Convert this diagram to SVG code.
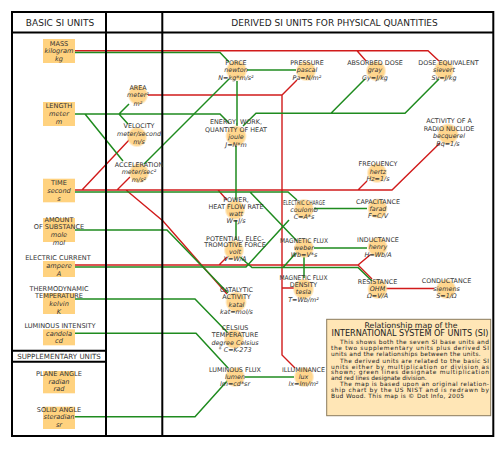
<svg xmlns="http://www.w3.org/2000/svg" width="503" height="450" viewBox="0 0 503 450">
<defs>
<radialGradient id="blob">
<stop offset="0" stop-color="#FFD68E"/>
<stop offset="0.78" stop-color="#FFD68E"/>
<stop offset="1" stop-color="#FFD68E" stop-opacity="0"/>
</radialGradient>
</defs>
<style>
.t{font-family:"DejaVu Sans",Verdana,sans-serif;font-size:6.4px;fill:#333;text-anchor:middle}
.b{font-size:6.6px}
.i{font-style:italic}
.h{font-family:"DejaVu Sans",Verdana,sans-serif;font-size:9px;fill:#222;text-anchor:middle}
.r{stroke:#D11B1B;stroke-width:1.4;fill:none}
.g{stroke:#1F8B1F;stroke-width:1.5;fill:none}
.box{fill:#FFD27F}
.blob{fill:url(#blob)}
.frame{stroke:#000;stroke-width:2;fill:none}
.note{font-family:"DejaVu Sans",Verdana,sans-serif;font-size:5.9px;fill:#222}
</style>
<rect width="503" height="450" fill="#fff"/>

<g id="connectors">
<path class="r" d="M75,50.7H428L439,61M357,50.7L366,61"/>
<path class="r" d="M148,95H282L297,80M282,95V355L295,368M282,288H294"/>
<path class="r" d="M75,190H392L440,143M82,190L130,139M117,190L130,177M126,190L163,221L227,294M218,190L227,200M358,190L367,181"/>
<path class="r" d="M75,265H358L370,255M358,265L372,279M219,265L227,257"/>
<path class="r" d="M386,288.5H434"/>
<path class="g" d="M75,52.5H220L229,62"/>
<path class="g" d="M75,114H220L229,123M85,114L123,161M119,114L129,104M119,114L128,124"/>
<path class="g" d="M144,164L229,79"/>
<path class="g" d="M247,70H296"/>
<path class="g" d="M237,81V126"/>
<path class="g" d="M243,126L256,113.3H405L439,79M331,113.3L365,79"/>
<path class="g" d="M236,146V200M236,220V240"/>
<path class="g" d="M75,192H288L297,200M250,192L297,241"/>
<path class="g" d="M75,230H167L228,293"/>
<path class="g" d="M75,267H246L289,220"/>
<path class="g" d="M240,257L252,267.5H358L372,281M283,267.5L296,253"/>
<path class="g" d="M314,208.5H367M314,248H367M304,256V278"/>
<path class="g" d="M75,299H195L228,333M75,333.3H196L228,368M75,416.7H195L228,380"/>
<path class="g" d="M245,377H294"/>
</g>

<g id="frame">
<rect class="frame" x="12" y="12" width="481.3" height="424"/>
<path class="frame" d="M12,32.5H493.3M106,12V436M162.3,12V436M12,350.7H106M12,361.7H106"/>
<text class="h" x="60" y="25.5">BASIC SI UNITS</text>
<text class="h" x="334.5" y="25.5">DERIVED SI UNITS FOR PHYSICAL QUANTITIES</text>
<text class="t" style="font-size:7.1px" x="59" y="358.6">SUPPLEMENTARY UNITS</text>
</g>

<g id="mass"><rect class="box" x="43" y="39" width="32" height="24"/><text class="t b" x="59" y="46">MASS</text><text class="t b i" x="59" y="53.3">kilogram</text><text class="t b i" x="59" y="60.8">kg</text></g>
<g id="length"><rect class="box" x="43" y="102" width="32" height="24"/><text class="t b" x="59" y="108.3">LENGTH</text><text class="t b i" x="59" y="116">meter</text><text class="t b i" x="59" y="123.5">m</text></g>
<g id="time"><rect class="box" x="43" y="178.7" width="32" height="23.6"/><text class="t b" x="59" y="185">TIME</text><text class="t b i" x="59" y="193">second</text><text class="t b i" x="59" y="200.5">s</text></g>
<g id="amount"><rect class="box" x="43" y="218" width="32" height="24"/><text class="t b" x="59" y="221.6">AMOUNT</text><text class="t b" x="59" y="229">OF SUBSTANCE</text><text class="t b i" x="59" y="236.6">mole</text><text class="t b i" x="59" y="244.5">mol</text></g>
<g id="current"><rect class="box" x="43" y="261" width="32" height="16"/><text class="t b" x="58" y="260">ELECTRIC CURRENT</text><text class="t b i" x="59" y="268">ampere</text><text class="t b i" x="59" y="275.5">A</text></g>
<g id="temperature"><rect class="box" x="43" y="293" width="32" height="21"/><text class="t b" x="59" y="291">THERMODYNAMIC</text><text class="t b" x="59" y="298.3">TEMPERATURE</text><text class="t b i" x="59" y="306.3">kelvin</text><text class="t b i" x="59" y="314">K</text></g>
<g id="intensity"><rect class="box" x="43" y="329.3" width="32" height="16"/><text class="t b" x="60" y="328">LUMINOUS INTENSITY</text><text class="t b i" x="59" y="335.6">candela</text><text class="t b i" x="59" y="343.3">cd</text></g>
<g id="plane"><rect class="box" x="43" y="371" width="32" height="22.3"/><text class="t b" x="59" y="376.3">PLANE ANGLE</text><text class="t b i" x="59" y="384">radian</text><text class="t b i" x="59" y="391.3">rad</text></g>
<g id="solid"><rect class="box" x="43" y="406.7" width="32" height="22.3"/><text class="t b" x="59" y="412">SOLID ANGLE</text><text class="t b i" x="59" y="419.4">steradian</text><text class="t b i" x="59" y="426.8">sr</text></g>

<g id="area"><circle class="blob" cx="138" cy="95" r="10.5"/><text class="t" x="138" y="90">AREA</text><text class="t i" x="138" y="97.3">meter²</text><text class="t i" x="138" y="105.6">m²</text></g>
<g id="velocity"><circle class="blob" cx="137" cy="137" r="10.5"/><text class="t" x="139" y="128.3">VELOCITY</text><text class="t i" x="139" y="136.3">meter/second</text><text class="t i" x="139" y="144">m/s</text></g>
<g id="acceleration"><circle class="blob" cx="139" cy="173" r="10.5"/><text class="t" x="139" y="166.6">ACCELERATION</text><text class="t i" x="139" y="174.3">meter/sec²</text><text class="t i" x="139" y="181.6">m/s²</text></g>
<g id="force"><circle class="blob" cx="236.5" cy="70.5" r="11"/><text class="t" x="236" y="65">FORCE</text><text class="t i" x="236" y="72.3">newton</text><text class="t i" x="236" y="80">N=kg*m/s²</text></g>
<g id="pressure"><circle class="blob" cx="306" cy="71" r="10.5"/><text class="t" x="307" y="65">PRESSURE</text><text class="t i" x="307" y="72.3">pascal</text><text class="t i" x="307" y="80">Pa=N/m²</text></g>
<g id="absorbed"><circle class="blob" cx="376" cy="71" r="10.5"/><text class="t" x="375" y="65">ABSORBED DOSE</text><text class="t i" x="375" y="72.3">gray</text><text class="t i" x="375" y="80">Gy=J/kg</text></g>
<g id="dose"><circle class="blob" cx="444" cy="70" r="10.5"/><text class="t" x="448.5" y="65">DOSE EQUIVALENT</text><text class="t i" x="444" y="72.3">sievert</text><text class="t i" x="444" y="80">Sv=J/kg</text></g>
<g id="energy"><circle class="blob" cx="236" cy="136" r="11"/><text class="t" x="236" y="124.3">ENERGY, WORK,</text><text class="t" x="236" y="131.6">QUANTITY OF HEAT</text><text class="t i" x="236" y="139">joule</text><text class="t i" x="236" y="146.6">J=N*m</text></g>
<g id="activity"><circle class="blob" cx="448" cy="134" r="11"/><text class="t" x="449" y="123.3">ACTIVITY OF A</text><text class="t" x="449" y="130.6">RADIO NUCLIDE</text><text class="t i" x="449" y="138">becquerel</text><text class="t i" x="448" y="145.6">Bq=1/s</text></g>
<g id="frequency"><circle class="blob" cx="377" cy="173" r="10.5"/><text class="t" x="378" y="166.3">FREQUENCY</text><text class="t i" x="378" y="173.6">hertz</text><text class="t i" x="378" y="181">Hz=1/s</text></g>
<g id="power"><circle class="blob" cx="235" cy="210" r="10.5"/><text class="t" x="236" y="201.6">POWER,</text><text class="t" x="236" y="208.6">HEAT FLOW RATE</text><text class="t i" x="236" y="216">watt</text><text class="t i" x="236" y="222.6">W=J/s</text></g>
<g id="charge"><circle class="blob" cx="304" cy="209" r="10.5"/><text class="t" x="304" y="204.8" textLength="42" lengthAdjust="spacingAndGlyphs">ELECTRIC CHARGE</text><text class="t i" x="304" y="211.8">coulomb</text><text class="t i" x="304" y="218.6">C=A*s</text></g>
<g id="capacitance"><circle class="blob" cx="377.5" cy="208.5" r="10.5"/><text class="t" x="378" y="204">CAPACITANCE</text><text class="t i" x="378" y="211">farad</text><text class="t i" x="378" y="217.6">F=C/V</text></g>
<g id="potential"><circle class="blob" cx="234" cy="250" r="10.5"/><text class="t" x="235" y="240.6">POTENTIAL, ELEC-</text><text class="t" x="235" y="247.3">TROMOTIVE FORCE</text><text class="t i" x="235" y="254">volt</text><text class="t i" x="235" y="260.6">V=W/A</text></g>
<g id="flux"><circle class="blob" cx="304" cy="248" r="10.5"/><text class="t" x="304" y="242.5" textLength="48" lengthAdjust="spacingAndGlyphs">MAGNETIC FLUX</text><text class="t i" x="304" y="249.6">weber</text><text class="t i" x="304" y="256.6">Wb=V*s</text></g>
<g id="inductance"><circle class="blob" cx="377.5" cy="247" r="10.5"/><text class="t" x="378" y="242.3">INDUCTANCE</text><text class="t i" x="378" y="249.3">henry</text><text class="t i" x="378" y="256.6">H=Wb/A</text></g>
<g id="density"><circle class="blob" cx="303.5" cy="289" r="11"/><text class="t" x="303.5" y="280" textLength="48" lengthAdjust="spacingAndGlyphs">MAGNETIC FLUX</text><text class="t" x="303.5" y="287.2">DENSITY</text><text class="t i" x="303.5" y="294.3">tesla</text><text class="t i" x="303.5" y="301.8">T=Wb/m²</text></g>
<g id="resistance"><circle class="blob" cx="377.5" cy="289" r="10.5"/><text class="t" x="377.5" y="284">RESISTANCE</text><text class="t i" x="377.5" y="290.6">OHM</text><text class="t i" x="377.5" y="298.3">Ω=V/A</text></g>
<g id="conductance"><circle class="blob" cx="446" cy="289" r="10.5"/><text class="t" x="446.5" y="283.3">CONDUCTANCE</text><text class="t i" x="446.5" y="290.6">siemens</text><text class="t i" x="446.5" y="298">S=1/Ω</text></g>
<g id="catalytic"><circle class="blob" cx="236" cy="302" r="11"/><text class="t" x="236.5" y="291.6">CATALYTIC</text><text class="t" x="236.5" y="299">ACTIVITY</text><text class="t i" x="236.5" y="306.6">katal</text><text class="t i" x="236.5" y="314.3">kat=mol/s</text></g>
<g id="celsius"><circle class="blob" cx="234" cy="339" r="10.5"/><text class="t" x="235" y="330">CELSIUS</text><text class="t" x="235" y="337.3">TEMPERATURE</text><text class="t i" x="235" y="344.6">degree Celsius</text><text class="t i" x="235" y="351.6">° C=K-273</text></g>
<g id="lumen"><circle class="blob" cx="235" cy="377" r="10.5"/><text class="t" x="235" y="371.6">LUMINOUS FLUX</text><text class="t i" x="235" y="379">lumen</text><text class="t i" x="235" y="385.6">lm=cd*sr</text></g>
<g id="lux"><circle class="blob" cx="304" cy="377" r="10.5"/><text class="t" x="303.5" y="371.6">ILLUMINANCE</text><text class="t i" x="303.5" y="379">lux</text><text class="t i" x="303.5" y="385.6">lx=lm/m²</text></g>

<g id="legend">
<rect x="326.7" y="319.3" width="164" height="96.4" fill="#FFE6B6" stroke="#8A7A5C" stroke-width="1"/>
<text class="note" x="411" y="328.3" text-anchor="middle" style="font-size:7.8px">Relationship map of the</text>
<text class="note" x="331.5" y="336.3" textLength="157" lengthAdjust="spacingAndGlyphs" style="font-size:8px">INTERNATIONAL SYSTEM OF UNITS (SI)</text>
<text class="note" x="340" y="344.1" textLength="149" lengthAdjust="spacing">This shows both the seven SI base units and</text>
<text class="note" x="331" y="350.1" textLength="158" lengthAdjust="spacing">the two supplementary units plus derived SI</text>
<text class="note" x="331" y="356.1" textLength="149.7" lengthAdjust="spacing">units and the relationships between the units.</text>
<text class="note" x="340" y="362.5" textLength="149" lengthAdjust="spacing">The derived units are related to the basic SI</text>
<text class="note" x="331" y="368.5" textLength="158" lengthAdjust="spacing">units either by multiplication or division as</text>
<text class="note" x="331" y="374.3" textLength="158" lengthAdjust="spacing">shown; green lines designate multiplication</text>
<text class="note" x="331" y="380.1" textLength="95.7" lengthAdjust="spacing">and red lines designate division.</text>
<text class="note" x="340" y="386" textLength="149" lengthAdjust="spacing">The map is based upon an original relation-</text>
<text class="note" x="331" y="392" textLength="158" lengthAdjust="spacing">ship chart by the US NIST and is redrawn by</text>
<text class="note" x="331" y="398" textLength="133" lengthAdjust="spacing">Bud Wood.  This map is © Dot Info, 2005</text>
</g>
</svg>
